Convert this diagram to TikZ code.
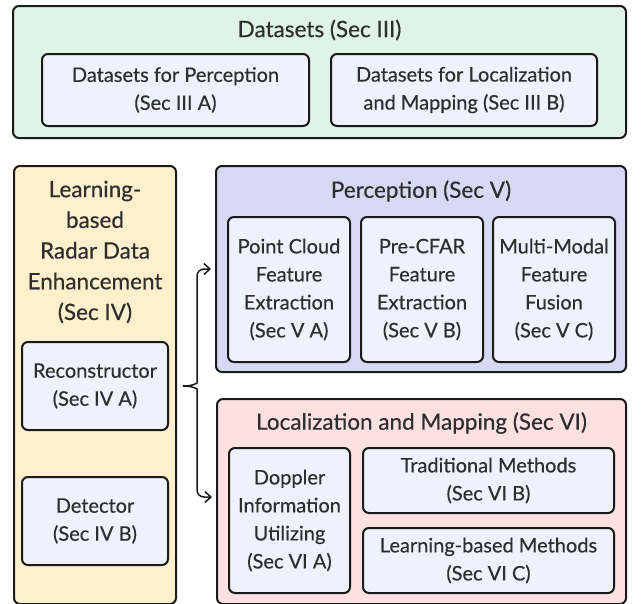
\documentclass[tikz,border=0pt]{standalone}
\usepackage{fontspec}
\setmainfont{Lato}[BoldFont=Lato, BoldFeatures={FakeBold=0.4}]
\usetikzlibrary{arrows.meta}
\definecolor{txt}{HTML}{2E2E2E}
\definecolor{edge}{HTML}{1A1A1A}
\definecolor{dsfill}{HTML}{DFF4E4}
\definecolor{subfill}{HTML}{EEF2FC}
\definecolor{enhfill}{HTML}{FFF0CD}
\definecolor{perfill}{HTML}{D5D9F3}
\definecolor{locfill}{HTML}{FDE0E0}
\tikzset{
  panel/.style={draw=edge, line width=2pt, rounded corners=6pt, inner sep=0pt},
  subbox/.style={panel, fill=subfill, align=center, text=txt,
    font=\fontsize{20}{28}\selectfont\bfseries},
  heading/.style={text=txt, align=center, inner sep=0pt,
    font=\fontsize{22.5}{30.7}\selectfont\bfseries},
  flow/.style={draw=edge, line width=1.5pt, -{Straight Barb[length=6pt,width=11pt,line width=1.5pt]}}
}
\begin{document}
\begin{tikzpicture}[x=1pt,y=-1pt]
\useasboundingbox (0,0) rectangle (643,603);

% Datasets
\node[panel, fill=dsfill, minimum width=613pt, minimum height=132pt] (ds) at (319.5,72) {};
\node[heading] (dst) at (319.5,30) {Datasets (Sec III)};
\node[subbox, minimum width=267pt, minimum height=72pt] (dsa) at (175.5,90)
  {Datasets for Perception\\(Sec III A)};
\node[subbox, minimum width=266pt, minimum height=72pt] (dsb) at (464,90)
  {Datasets for Localization\\and Mapping (Sec III B)};

% Radar data enhancement
\node[panel, fill=enhfill, minimum width=162pt, minimum height=438pt] (en) at (95,385) {};
\node[heading] (ent) at (95,252) {Learning-\\based\\Radar Data\\Enhancement\\(Sec IV)};
\node[subbox, minimum width=146pt, minimum height=88pt] (rc) at (95,386)
  {Reconstructor\\(Sec IV A)};
\node[subbox, minimum width=146pt, minimum height=88pt] (dt) at (95,521)
  {Detector\\(Sec IV B)};

% Perception
\node[panel, fill=perfill, minimum width=410pt, minimum height=206pt] (pe) at (421,269) {};
\node[heading] (pet) at (421,191) {Perception (Sec V)};
\node[subbox, minimum width=122pt, minimum height=145pt] (pa) at (289,289.5)
  {Point Cloud\\Feature\\Extraction\\(Sec V A)};
\node[subbox, minimum width=122pt, minimum height=145pt] (pb) at (422,289.5)
  {Pre-CFAR\\Feature\\Extraction\\(Sec V B)};
\node[subbox, minimum width=122pt, minimum height=145pt] (pc) at (554,289.5)
  {Multi-Modal\\Feature\\Fusion\\(Sec V C)};

% Localization and mapping
\node[panel, fill=locfill, minimum width=409pt, minimum height=205pt] (lm) at (421.5,501.5) {};
\node[heading] (lmt) at (421.5,423) {Localization and Mapping (Sec VI)};
\node[subbox, minimum width=121pt, minimum height=145pt] (la) at (289.5,520.5)
  {Doppler\\Information\\Utilizing\\(Sec VI A)};
\node[subbox, minimum width=251pt, minimum height=65pt] (lb) at (488.5,480.5)
  {Traditional Methods\\(Sec VI B)};
\node[subbox, minimum width=251pt, minimum height=65pt] (lc) at (488.5,560.5)
  {Learning-based Methods\\(Sec VI C)};

% Brace from the reconstructor to both downstream tasks
\coordinate (tip) at ([xshift=14pt]rc.east);
\coordinate (bx) at ([xshift=28pt]rc.east);
\coordinate (pin) at ([xshift=-4pt]pe.west);
\coordinate (lin) at ([xshift=-4pt,yshift=4.5pt]lm.west);
\draw[flow, rounded corners=7pt] (tip) .. controls ([xshift=10pt]tip) and ([yshift=3pt]bx) .. ([yshift=10pt]bx)
  -- (bx |- pin) -- (pin);
\draw[flow, rounded corners=7pt] (tip) .. controls ([xshift=10pt]tip) and ([yshift=-3pt]bx) .. ([yshift=-10pt]bx)
  -- (bx |- lin) -- (lin);
\end{tikzpicture}
\end{document}
